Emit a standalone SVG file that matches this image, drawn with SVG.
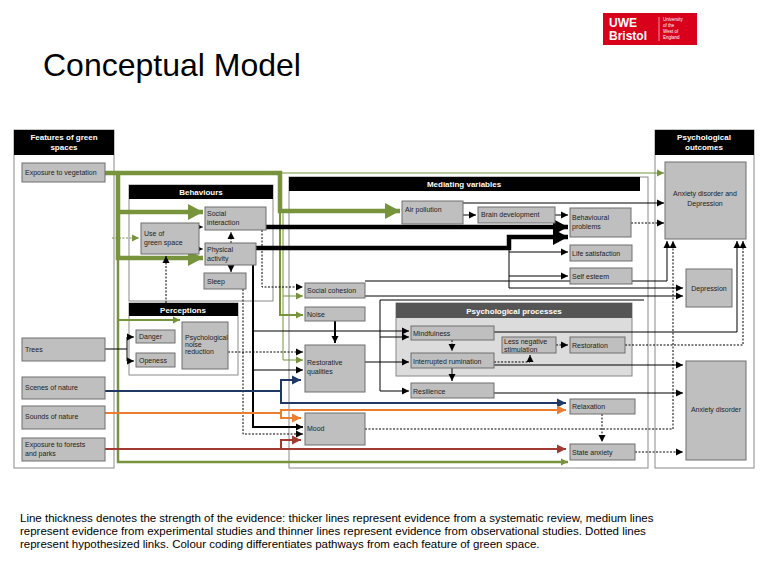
<svg xmlns="http://www.w3.org/2000/svg" width="761" height="573" viewBox="0 0 761 573">
<style>
text{font-family:"Liberation Sans",Arial,sans-serif;}
.n{fill:#bfbfbf;stroke:#6e6e6e;stroke-width:1}
.t{font-size:7px;fill:#222}
.panel{fill:#fff;stroke:#8a8a8a;stroke-width:1}
.hd{fill:#000}
.ht{font-size:8px;fill:#fff;font-weight:bold;text-anchor:middle}
.c{fill:none;stroke:#000}
.d{stroke-dasharray:2,1.5}
.g{stroke:#77933c}
.bl{stroke:#1f3864}
.or{stroke:#ed7d31}
.rd{stroke:#a33a32}
.w1{stroke-width:1}
.w2{stroke-width:2}
.w3{stroke-width:2.5}
.w4{stroke-width:4.5}
</style>
<defs>
<marker id="mk" markerUnits="userSpaceOnUse" markerWidth="8" markerHeight="8" refX="7" refY="4" orient="auto"><path d="M0,0.5 L7,4 L0,7.5z" fill="#000"/></marker>
<marker id="mkL" markerUnits="userSpaceOnUse" markerWidth="16" markerHeight="16" refX="15" refY="8" orient="auto"><path d="M0,0 L15,8 L0,16z" fill="#000"/></marker>
<marker id="mg" markerUnits="userSpaceOnUse" markerWidth="8" markerHeight="8" refX="7" refY="4" orient="auto"><path d="M0,0.5 L7,4 L0,7.5z" fill="#77933c"/></marker>
<marker id="mgL" markerUnits="userSpaceOnUse" markerWidth="16" markerHeight="16" refX="15" refY="8" orient="auto"><path d="M0,0 L15,8 L0,16z" fill="#77933c"/></marker>
<marker id="mb" markerUnits="userSpaceOnUse" markerWidth="10" markerHeight="10" refX="9" refY="5" orient="auto"><path d="M0,0.5 L9,5 L0,9.5z" fill="#1f3864"/></marker>
<marker id="mo" markerUnits="userSpaceOnUse" markerWidth="10" markerHeight="10" refX="9" refY="5" orient="auto"><path d="M0,0.5 L9,5 L0,9.5z" fill="#ed7d31"/></marker>
<marker id="mr" markerUnits="userSpaceOnUse" markerWidth="10" markerHeight="10" refX="9" refY="5" orient="auto"><path d="M0,0.5 L9,5 L0,9.5z" fill="#a33a32"/></marker>
</defs>
<rect width="761" height="573" fill="#fff"/>
<g id="logo">
<rect x="603" y="13" width="94" height="32" fill="#d9001b"/>
<text x="609" y="27" font-size="12" font-weight="bold" fill="#fff">UWE</text>
<text x="609" y="40" font-size="12" font-weight="bold" fill="#fff">Bristol</text>
<line x1="659" y1="17" x2="659" y2="41" stroke="#fff" stroke-width="0.6"/>
<text x="663" y="21" font-size="4.5" fill="#fff">University</text>
<text x="663" y="27" font-size="4.5" fill="#fff">of the</text>
<text x="663" y="33" font-size="4.5" fill="#fff">West of</text>
<text x="663" y="39" font-size="4.5" fill="#fff">England</text>
</g>
<text x="43" y="76" font-size="32" fill="#000" font-family="'Open Sans',sans-serif">Conceptual Model</text>

<g id="panels">
<rect class="panel" x="14" y="130" width="100" height="338"/>
<rect class="hd" x="14" y="130" width="100" height="25"/>
<text class="ht" x="64" y="140">Features of green</text><text class="ht" x="64" y="150">spaces</text>
<rect class="panel" x="655" y="130" width="99" height="338"/>
<rect class="hd" x="655" y="130" width="99" height="25"/>
<text class="ht" x="704" y="140">Psychological</text><text class="ht" x="704" y="150">outcomes</text>
<rect class="panel" x="289" y="177" width="359" height="291"/>
<rect class="hd" x="289" y="177" width="351" height="14"/>
<text class="ht" x="464" y="187">Mediating variables</text>
<rect class="panel" x="129" y="185" width="144" height="116"/>
<rect class="hd" x="129" y="185" width="144" height="14"/>
<text class="ht" x="201" y="195">Behaviours</text>
<rect class="panel" x="129" y="303" width="109" height="72"/>
<rect class="hd" x="129" y="303" width="109" height="13"/>
<text class="ht" x="183" y="313">Perceptions</text>
<rect x="396" y="303" width="236" height="73" fill="#dcdcdc" stroke="#888"/>
<rect x="396" y="303" width="236" height="15" fill="#555"/>
<text class="ht" x="514" y="314">Psychological processes</text>
</g>

<g id="connectors">
<path class="c g w1" d="M280,173 H664" marker-end="url(#mg)"/>
<path class="c g w4" d="M105,173 H280 V211 H400" marker-end="url(#mgL)"/>
<path class="c g w4" d="M118,173 V258 H203" marker-end="url(#mgL)"/>
<path class="c g w4" d="M118,212 H203" marker-end="url(#mgL)"/>
<path class="c g w3" d="M118,258 V462 H568" marker-end="url(#mg)"/>
<path class="c g w2" d="M118,320 H180" marker-end="url(#mg)"/>
<path class="c g d w1" d="M112,238 H139" marker-end="url(#mg)"/>
<path class="c g w2" d="M280,211 V315 H303" marker-end="url(#mg)"/>
<path class="c g w1" d="M283,211 V296 H303" marker-end="url(#mg)"/>
<path class="c g w1" d="M283,296 V360 H303" marker-end="url(#mg)"/>
<path class="c w4" d="M266,227 H568" marker-end="url(#mkL)"/>
<path class="c w4" d="M256,248 H509 V237 H568" marker-end="url(#mkL)"/>
<path class="c w1" d="M509,248 V252 H568" marker-end="url(#mk)"/>
<path class="c w1" d="M509,252 V276 H568" marker-end="url(#mk)"/>
<path class="c w1" d="M509,276 V288 H683" marker-end="url(#mk)"/>
<path class="c w1" d="M365,281 H667 V241" marker-end="url(#mk)"/>
<path class="c w1" d="M365,296 H683" marker-end="url(#mk)"/>
<path class="c w1" d="M463,203 H664" marker-end="url(#mk)"/>
<path class="c w1" d="M463,215 H476" marker-end="url(#mk)"/>
<path class="c w1" d="M555,215 H568" marker-end="url(#mk)"/>
<path class="c d w1" d="M631,223 H664" marker-end="url(#mk)"/>
<path class="c d w1" d="M199,227 H203" marker-end="url(#mk)"/>
<path class="c d w1" d="M199,249 H203" marker-end="url(#mk)"/>
<path class="c d w1" d="M231,243 V232" marker-end="url(#mk)"/>
<path class="c w1" d="M231,265 V272" marker-end="url(#mk)"/>
<path class="c d w1" d="M262,230 V287 H303" marker-end="url(#mk)"/>
<path class="c d w1" d="M166,303 V256" marker-end="url(#mk)"/>
<path class="c d w1" d="M228,352 H303" marker-end="url(#mk)"/>
<path class="c d w1" d="M243,289 V434 H303" marker-end="url(#mk)"/>
<path class="c w2" d="M253,265 V427 H303" marker-end="url(#mk)"/>
<path class="c w1" d="M253,331 H409" marker-end="url(#mk)"/>
<path class="c w1" d="M253,370 H303" marker-end="url(#mk)"/>
<path class="c w1" d="M105,349 H127 M127,337 V361"/>
<path class="c w1" d="M127,337 H134" marker-end="url(#mk)"/>
<path class="c w1" d="M127,361 H134" marker-end="url(#mk)"/>
<path class="c w2" d="M335,321 V343" marker-end="url(#mk)"/>
<path class="c w1" d="M365,362 H409" marker-end="url(#mk)"/>
<path class="c w1" d="M644,300 H380 V391 H409" marker-end="url(#mk)"/>
<path class="c w1" d="M380,337 H409" marker-end="url(#mk)"/>
<path class="c d w1" d="M452,340 V351" marker-end="url(#mk)"/>
<path class="c w1" d="M452,368 V381" marker-end="url(#mk)"/>
<path class="c d w1" d="M494,362 H530 V355" marker-end="url(#mk)"/>
<path class="c d w1" d="M556,345 H568" marker-end="url(#mk)"/>
<path class="c d w1" d="M625,345 H743 V241" marker-end="url(#mk)"/>
<path class="c w1" d="M494,332 H737 V241" marker-end="url(#mk)"/>
<path class="c w1" d="M494,365 H683" marker-end="url(#mk)"/>
<path class="c w1" d="M494,393 H683" marker-end="url(#mk)"/>
<path class="c d w1" d="M602,414 V442" marker-end="url(#mk)"/>
<path class="c d w1" d="M365,429 H673 V241" marker-end="url(#mk)"/>
<path class="c d w1" d="M635,452 H683" marker-end="url(#mk)"/>
<path class="c bl w2" d="M105,391 H281 V380 H301" marker-end="url(#mb)"/>
<path class="c bl w2" d="M281,391 V403 H566" marker-end="url(#mb)"/>
<path class="c or w2" d="M105,413 H281 V418 H301" marker-end="url(#mo)"/>
<path class="c or w2" d="M281,413 V410 H566" marker-end="url(#mo)"/>
<path class="c rd w2" d="M105,449 H281 V440 H301" marker-end="url(#mr)"/>
<path class="c rd w2" d="M281,449 H566" marker-end="url(#mr)"/>
</g>

<g id="n-veg"><rect class="n" x="22" y="163" width="83" height="19"/><text class="t" x="25" y="175">Exposure to vegetation</text></g>
<g id="n-trees"><rect class="n" x="22" y="338" width="83" height="23"/><text class="t" x="25" y="352">Trees</text></g>
<g id="n-scenes"><rect class="n" x="22" y="377" width="83" height="22"/><text class="t" x="25" y="390">Scenes of nature</text></g>
<g id="n-sounds"><rect class="n" x="22" y="406" width="83" height="23"/><text class="t" x="25" y="419">Sounds of nature</text></g>
<g id="n-forests"><rect class="n" x="22" y="438" width="83" height="23"/><text class="t" x="25" y="447">Exposure to forests</text><text class="t" x="25" y="456">and parks</text></g>
<g id="n-social"><rect class="n" x="205" y="207" width="61" height="23"/><text class="t" x="207" y="216">Social</text><text class="t" x="207" y="225">interaction</text></g>
<g id="n-use"><rect class="n" x="141" y="223" width="58" height="31"/><text class="t" x="144" y="236">Use of</text><text class="t" x="144" y="245">green space</text></g>
<g id="n-phys"><rect class="n" x="205" y="243" width="51" height="22"/><text class="t" x="207" y="252">Physical</text><text class="t" x="207" y="261">activity</text></g>
<g id="n-sleep"><rect class="n" x="204" y="273" width="42" height="16"/><text class="t" x="207" y="284">Sleep</text></g>
<g id="n-danger"><rect class="n" x="136" y="330" width="39" height="13"/><text class="t" x="139" y="339">Danger</text></g>
<g id="n-open"><rect class="n" x="136" y="353" width="39" height="14"/><text class="t" x="139" y="363">Openess</text></g>
<g id="n-noise-red"><rect class="n" x="182" y="322" width="46" height="47"/><text class="t" x="185" y="340" font-size="6">Psychological</text><text class="t" x="185" y="347" font-size="6">noise</text><text class="t" x="185" y="354" font-size="6">reduction</text></g>
<g id="n-air"><rect class="n" x="402" y="201" width="61" height="23"/><text class="t" x="405" y="212">Air pollution</text></g>
<g id="n-brain"><rect class="n" x="478" y="207" width="77" height="16"/><text class="t" x="481" y="217">Brain development</text></g>
<g id="n-behav"><rect class="n" x="570" y="208" width="61" height="29"/><text class="t" x="572" y="220">Behavioural</text><text class="t" x="572" y="229">problems</text></g>
<g id="n-life"><rect class="n" x="570" y="245" width="62" height="16"/><text class="t" x="572" y="256">Life satisfaction</text></g>
<g id="n-self"><rect class="n" x="570" y="268" width="62" height="16"/><text class="t" x="572" y="279">Self esteem</text></g>
<g id="n-cohesion"><rect class="n" x="305" y="283" width="60" height="15"/><text class="t" x="307" y="293">Social cohesion</text></g>
<g id="n-noise"><rect class="n" x="305" y="307" width="60" height="14"/><text class="t" x="307" y="317">Noise</text></g>
<g id="n-restq"><rect class="n" x="305" y="345" width="60" height="47"/><text class="t" x="307" y="365">Restorative</text><text class="t" x="307" y="374">qualities</text></g>
<g id="n-mind"><rect class="n" x="411" y="326" width="83" height="14"/><text class="t" x="413" y="336">Mindfulness</text></g>
<g id="n-rum"><rect class="n" x="411" y="353" width="83" height="15"/><text class="t" x="413" y="364">Interrupted rumination</text></g>
<g id="n-less"><rect class="n" x="502" y="337" width="54" height="16"/><text class="t" x="504" y="344">Less negative</text><text class="t" x="504" y="352">stimulation</text></g>
<g id="n-resto"><rect class="n" x="570" y="337" width="55" height="16"/><text class="t" x="572" y="348">Restoration</text></g>
<g id="n-resil"><rect class="n" x="411" y="383" width="83" height="15"/><text class="t" x="413" y="394">Resilience</text></g>
<g id="n-relax"><rect class="n" x="570" y="399" width="65" height="15"/><text class="t" x="572" y="409">Relaxation</text></g>
<g id="n-mood"><rect class="n" x="305" y="413" width="60" height="32"/><text class="t" x="307" y="431">Mood</text></g>
<g id="n-state"><rect class="n" x="570" y="444" width="65" height="16"/><text class="t" x="572" y="455">State anxiety</text></g>
<g id="n-ad"><rect class="n" x="665" y="162" width="81" height="77"/><text class="t" x="705" y="196" text-anchor="middle">Anxiety disorder and</text><text class="t" x="705" y="206" text-anchor="middle">Depression</text></g>
<g id="n-dep"><rect class="n" x="686" y="269" width="46" height="38"/><text class="t" x="709" y="291" text-anchor="middle">Depression</text></g>
<g id="n-anx"><rect class="n" x="686" y="361" width="60" height="99"/><text class="t" x="716" y="412" text-anchor="middle">Anxiety disorder</text></g>

<g id="caption" font-size="11.5" fill="#000">
<text x="20" y="522">Line thickness denotes the strength of the evidence: thicker lines represent evidence from a systematic review, medium lines</text>
<text x="20" y="535">represent evidence from experimental studies and thinner lines represent evidence from observational studies. Dotted lines</text>
<text x="20" y="548">represent hypothesized links. Colour coding differentiates pathways from each feature of green space.</text>
</g>
</svg>
